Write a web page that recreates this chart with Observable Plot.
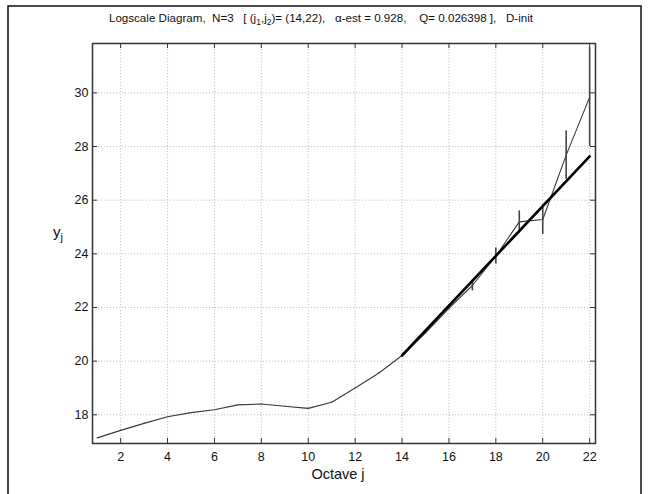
<!DOCTYPE html>
<html><head><meta charset="utf-8">
<script src="https://cdn.jsdelivr.net/npm/d3@7"></script>
<script src="https://cdn.jsdelivr.net/npm/@observablehq/plot@0.6"></script>
<style>
body{margin:0;background:#fff;}
#chart{position:relative;width:649px;height:494px;}
svg text{white-space:pre;}
</style>
</head><body><div id="chart"></div>
<script>
// Octaves j and estimated log-scale values y_j
const octaves = [1,2,3,4,5,6,7,8,9,10,11,12,13,14,15,16,17,18,19,20,21,22];
const yj = [17.14,17.42,17.68,17.93,18.08,18.19,18.37,18.40,18.32,18.24,18.47,19.00,19.55,20.21,21.05,21.97,22.82,23.92,25.19,25.28,27.68,29.84];
// half-widths of the confidence intervals
const halfWidth = [0.005,0.005,0.005,0.005,0.005,0.005,0.005,0.005,0.005,0.005,0.01,0.01,0.01,0.02,0.03,0.05,0.2,0.3,0.41,0.56,0.9,1.84];
// regression over (j1, j2)
const fitRange = [14, 22];
const fitSlope = 0.928;
const fitStartY = 20.21;
const xTicks = [2,4,6,8,10,12,14,16,18,20,22];
const yTicks = [18,20,22,24,26,28,30];
const xDomain = [0.8, 22.25];
const yDomain = [16.93, 31.84];

const data = octaves.map((j, i) => ({j, y: yj[i], lo: yj[i] - halfWidth[i], hi: yj[i] + halfWidth[i]}));
const fit = fitRange.map(j => ({j, y: fitStartY + fitSlope * (j - fitRange[0])}));

const W = 649, H = 494, mL = 92, mR = 54, mT = 43, mB = 51;
const innerH = H - mT - mB, innerW = W - mL - mR;

const plot = Plot.plot({
  width: W, height: H,
  marginLeft: mL, marginRight: mR, marginTop: mT, marginBottom: mB,
  style: {fontFamily: "'Liberation Sans', Arial, sans-serif", fontSize: "12.5px", color: "#111", background: "white", overflow: "visible"},
  x: {domain: xDomain, ticks: xTicks, tickSize: 0, tickPadding: 9, label: null},
  y: {domain: yDomain, ticks: yTicks, tickSize: 0, tickPadding: 4, label: null},
  marks: [
    Plot.ruleX(xTicks, {x: d => d, stroke: "#c4c4c4", strokeDasharray: "1.2,1.8"}),
    Plot.ruleY(yTicks, {y: d => d, stroke: "#c4c4c4", strokeDasharray: "1.2,1.8"}),
    Plot.tickX(xTicks, {x: d => d, insetTop: innerH - 5, stroke: "#333"}),
    Plot.tickX(xTicks, {x: d => d, insetBottom: innerH - 5, stroke: "#333"}),
    Plot.tickY(yTicks, {y: d => d, insetRight: innerW - 5, stroke: "#333"}),
    Plot.tickY(yTicks, {y: d => d, insetLeft: innerW - 5, stroke: "#333"}),
    Plot.line(data, {x: "j", y: "y", stroke: "#3a3a3a", strokeWidth: 1.1}),
    Plot.ruleX(data, {x: "j", y1: "lo", y2: "hi", stroke: "#444", strokeWidth: 1.6, clip: true}),
    Plot.line(fit, {x: "j", y: "y", stroke: "#000", strokeWidth: 2.6}),
    Plot.frame({stroke: "#333", strokeWidth: 1.5})
  ]
});
document.getElementById("chart").appendChild(plot);

const svg = d3.select(plot);
// outer frame
svg.append("rect").attr("x", 8).attr("y", 6).attr("width", 633).attr("height", 500)
  .attr("fill", "none").attr("stroke", "#111").attr("stroke-width", 1.5);

// title
const t = svg.append("text").attr("x", 321).attr("y", 22).attr("text-anchor", "middle")
  .attr("font-family", "'Liberation Sans', Arial, sans-serif").attr("font-size", 11.6).attr("fill", "#111");
t.append("tspan").text("Logscale Diagram,  N=3   [ (j");
t.append("tspan").attr("dy", 3).attr("font-size", 8.5).text("1");
t.append("tspan").attr("dy", -3).text(",j");
t.append("tspan").attr("dy", 3).attr("font-size", 8.5).text("2");
t.append("tspan").attr("dy", -3).text(")= (14,22),   \u03b1-est = 0.928,    Q= 0.026398 ],   D-init");

// y label
const yl = svg.append("text").attr("x", 58).attr("y", 237)
  .attr("font-family", "'Liberation Sans', Arial, sans-serif").attr("font-size", 15).attr("fill", "#111");
yl.append("tspan").text("y");
yl.append("tspan").attr("dy", 4).attr("font-size", 11).text("j");

// x label
svg.append("text").attr("x", 338).attr("y", 479).attr("text-anchor", "middle")
  .attr("font-family", "'Liberation Sans', Arial, sans-serif").attr("font-size", 14.5).attr("fill", "#111")
  .text("Octave j");
</script>
</body></html>
